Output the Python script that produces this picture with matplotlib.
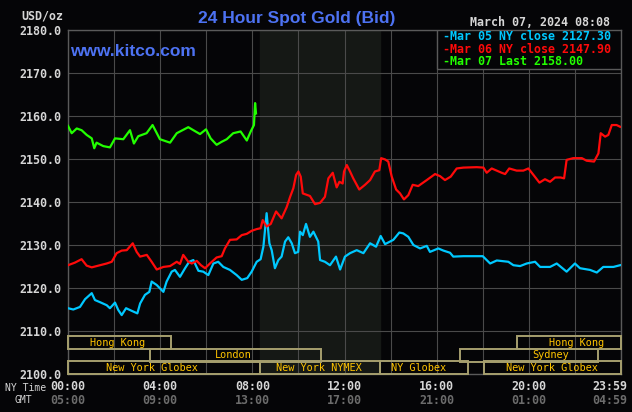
import matplotlib
matplotlib.use('Agg')
from matplotlib import pyplot as plt
from matplotlib.patches import Rectangle
from matplotlib import transforms

# hours since 00:00 NY time, bid price
cyan_t = [0, 0.23, 0.52, 0.74, 1.03, 1.17, 1.39, 1.68, 1.82, 2.04, 2.18, 2.33, 2.52, 2.76, 3.01,
          3.13, 3.34, 3.53, 3.63, 3.85, 4.14, 4.28, 4.50, 4.64, 4.86, 5.08, 5.26, 5.44, 5.66, 5.87,
          6.09, 6.31, 6.52, 6.74, 7.03, 7.32, 7.54, 7.78, 7.97, 8.19, 8.36, 8.48, 8.62, 8.74, 8.84,
          8.98, 9.13, 9.27, 9.42, 9.56, 9.71, 9.85, 9.99, 10.07, 10.19, 10.33, 10.50, 10.65, 10.86,
          10.94, 11.15, 11.37, 11.63, 11.81, 12.02, 12.24, 12.53, 12.82, 13.11, 13.37, 13.57, 13.76,
          14.12, 14.38, 14.55, 14.77, 14.99, 15.28, 15.57, 15.71, 16.07, 16.29, 16.58, 16.72, 17.16,
          18.00, 18.32, 18.61, 19.11, 19.33, 19.62, 19.91, 20.27, 20.49, 20.92, 21.21, 21.64, 22.00,
          22.22, 22.66, 22.95, 23.23, 23.67, 23.96]
cyan_p = [2115.3, 2115.0, 2115.6, 2117.4, 2118.8, 2117.2, 2116.7, 2116.0, 2115.3, 2116.6, 2114.9,
          2113.7, 2115.3, 2114.7, 2114.1, 2116.4, 2118.4, 2119.1, 2121.5, 2120.7, 2119.1, 2121.5,
          2123.8, 2124.2, 2122.6, 2124.6, 2126.1, 2126.5, 2124.0, 2123.8, 2123.0, 2125.7, 2126.1,
          2124.9, 2124.2, 2123.0, 2121.9, 2122.3, 2123.8, 2126.1, 2126.7, 2129.6, 2137.4, 2130.4,
          2128.8, 2124.6, 2126.5, 2127.3, 2130.8, 2131.8, 2130.4, 2128.1, 2128.4, 2133.1, 2132.3,
          2134.9, 2131.9, 2133.1, 2130.8, 2126.5, 2126.1, 2125.3, 2127.3, 2124.3, 2127.3, 2128.1,
          2128.8, 2128.1, 2130.4, 2129.6, 2132.1, 2130.2, 2131.2, 2132.9, 2132.7, 2131.9, 2130.0,
          2129.2, 2129.8, 2128.4, 2129.2, 2128.7, 2128.2, 2127.3, 2127.4, 2127.4, 2125.7, 2126.4,
          2126.1, 2125.3, 2125.1, 2125.7, 2126.1, 2124.9, 2124.9, 2125.7, 2123.8, 2125.7, 2124.6,
          2124.2, 2123.6, 2124.9, 2124.9, 2125.3]

red_t = [0, 0.30, 0.59, 0.81, 1.03, 1.39, 1.68, 1.90, 2.11, 2.33, 2.55, 2.81, 2.98, 3.13, 3.42,
         3.63, 3.85, 4.14, 4.43, 4.72, 4.86, 5.00, 5.22, 5.37, 5.59, 5.77, 5.95, 6.16, 6.45, 6.67,
         6.81, 7.03, 7.32, 7.54, 7.76, 7.97, 8.19, 8.36, 8.45, 8.62, 8.80, 9.03, 9.27, 9.49, 9.64,
         9.78, 9.90, 10.00, 10.10, 10.19, 10.50, 10.72, 10.94, 11.15, 11.30, 11.49, 11.66, 11.78,
         11.92, 11.98, 12.10, 12.24, 12.38, 12.64, 12.89, 13.11, 13.32, 13.51, 13.59, 13.76, 13.90,
         14.05, 14.24, 14.41, 14.58, 14.77, 14.96, 15.20, 15.57, 15.93, 16.15, 16.36, 16.61, 16.87,
         17.16, 17.74, 18.03, 18.17, 18.39, 18.82, 18.97, 19.15, 19.47, 19.76, 19.98, 20.20, 20.46,
         20.70, 20.92, 21.14, 21.38, 21.53, 21.64, 21.93, 22.30, 22.51, 22.83, 23.02, 23.12, 23.31,
         23.45, 23.60, 23.81, 23.96]
red_p = [2125.3, 2125.9, 2126.7, 2125.2, 2124.8, 2125.3, 2125.7, 2126.1, 2128.1, 2128.7, 2128.8,
         2130.4, 2128.4, 2127.3, 2127.7, 2126.1, 2124.3, 2124.9, 2125.1, 2126.1, 2125.6, 2127.7,
         2126.1, 2125.7, 2126.3, 2125.3, 2124.6, 2125.7, 2127.1, 2127.4, 2129.2, 2131.2, 2131.3,
         2132.3, 2132.6, 2133.3, 2133.7, 2133.9, 2135.8, 2134.3, 2134.9, 2137.8, 2136.2, 2138.8,
         2141.2, 2143.2, 2146.3, 2147.1, 2145.9, 2142.0, 2141.4, 2139.5, 2139.8, 2141.2, 2145.5,
         2146.8, 2143.4, 2144.7, 2144.3, 2147.1, 2148.6, 2147.1, 2145.5, 2142.9, 2144.0, 2145.1,
         2147.1, 2147.4, 2150.2, 2149.9, 2149.4, 2145.9, 2142.9, 2142.0, 2140.6, 2141.6, 2144.0,
         2143.7, 2145.1, 2146.5, 2146.0, 2145.1, 2145.9, 2147.8, 2148.0, 2148.1, 2148.0, 2146.8,
         2147.8, 2146.8, 2146.5, 2147.8, 2147.3, 2147.3, 2147.8, 2146.3, 2144.5, 2145.3, 2144.7,
         2145.7, 2145.7, 2145.5, 2149.8, 2150.2, 2150.2, 2149.6, 2149.4, 2151.3, 2156.0, 2155.2,
         2155.6, 2157.9, 2157.9, 2157.5]

green_t = [0, 0.16, 0.38, 0.59, 0.81, 1.03, 1.14, 1.24, 1.53, 1.82, 2.04, 2.40, 2.69, 2.86, 3.05,
           3.41, 3.67, 3.99, 4.43, 4.72, 5.22, 5.44, 5.73, 5.99, 6.19, 6.45, 6.67, 6.89, 7.17, 7.49,
           7.76, 7.93, 8.07, 8.12, 8.16]
green_p = [2157.7, 2156.0, 2157.1, 2156.7, 2155.6, 2154.8, 2152.5, 2153.8, 2153.0, 2152.7, 2154.8,
           2154.6, 2156.7, 2153.6, 2155.3, 2156.0, 2157.9, 2154.6, 2153.8, 2156.0, 2157.4, 2156.7,
           2155.8, 2156.9, 2154.8, 2153.3, 2154.0, 2154.6, 2156.0, 2156.4, 2154.3, 2156.4, 2157.9,
           2163.0, 2160.6]

legend_labels = ['-Mar 05 NY close 2127.30', '-Mar 06 NY close 2147.90', '-Mar 07 Last 2158.00']

ny_ticks = [0, 4, 8, 12, 16, 20, 24]
ny_labels = ['00:00', '04:00', '08:00', '12:00', '16:00', '20:00', '23:59']
gmt_labels = ['05:00', '09:00', '13:00', '17:00', '21:00', '01:00', '04:59']

# trading sessions: name, start, end, row, label position
sessions = [
    ('Hong Kong', 0, 4.47, 2, 2.13),
    ('Hong Kong', 19.5, 24, 2, 22.05),
    ('London', 3.54, 11.0, 1, 7.16),
    ('Sydney', 17.0, 23.0, 1, 20.96),
    ('New York Globex', 0, 8.33, 0, 3.65),
    ('New York NYMEX', 8.33, 13.54, 0, 10.9),
    ('NY Globex', 13.54, 17.38, 0, 15.2),
    ('New York Globex', 18.05, 24, 0, 21.0),
]
row_bottoms = [2100, 2102.9, 2105.85]
row_height = 2.95

nymex_open, nymex_close = 8.33, 13.55

BG = '#050507'
GRID = '#4a4a4a'
TXT = '#d6d6d6'
CYAN = '#00c8ff'
RED = '#ff0a0a'
GREEN = '#22ff00'
BLUE = '#4d72f2'
BOX = '#a69f6e'
GOLD = '#ffc400'
MONO = 'DejaVu Sans Mono'

fig = plt.figure(figsize=(6.32, 4.12), dpi=100, facecolor=BG)
ax = fig.add_axes([68 / 632, 38 / 412, 553 / 632, 344 / 412], facecolor=BG)
ax.set_xlim(0, 24)
ax.set_ylim(2100, 2180)

ax.axvspan(nymex_open, nymex_close, color='#151815', zorder=0)

ax.set_xticks(range(0, 25, 2))
ax.set_yticks(range(2100, 2181, 10))
ax.grid(color=GRID, linewidth=0.8, zorder=1)
ax.set_xticklabels([])
ax.set_yticklabels(['%.1f' % v for v in range(2100, 2181, 10)],
                   fontfamily=MONO, fontweight='bold', fontsize=8.4, color=TXT)
ax.tick_params(length=0, pad=5)
for s in ax.spines.values():
    s.set_color('#5a5a5a')
    s.set_linewidth(1.0)

ax.plot(cyan_t, cyan_p, color=CYAN, linewidth=1.6, zorder=4)
ax.plot(red_t, red_p, color=RED, linewidth=1.6, zorder=4)
ax.plot(green_t, green_p, color=GREEN, linewidth=1.6, zorder=5)

for name, t0, t1, row, tx in sessions:
    y0 = row_bottoms[row]
    ax.add_patch(Rectangle((t0, y0), t1 - t0, row_height, fill=False,
                           edgecolor=BOX, linewidth=1.4, zorder=3, clip_on=False))
    ax.text(tx, y0 + row_height / 2, name, color=GOLD, fontfamily=MONO,
            fontsize=7.4, ha='center', va='center', zorder=6)

# legend box in the top right corner
ax.add_patch(Rectangle((16, 2170.9), 8, 9.1, facecolor=BG, edgecolor='#5a5a5a',
                       linewidth=1.0, zorder=6))
for i, (lbl, col) in enumerate(zip(legend_labels, [CYAN, RED, GREEN])):
    fig.text(443 / 632, 1 - (36.5 + 12.6 * i) / 412, lbl, color=col, fontfamily=MONO,
             fontweight='bold', fontsize=8.4, ha='left', va='center', zorder=7)

# time axis: NY time and GMT
trans = transforms.blended_transform_factory(ax.transData, ax.transAxes)
for t, ny, gmt in zip(ny_ticks, ny_labels, gmt_labels):
    ha = 'center'
    dx = 0
    if t == 24:
        ha = 'right'
        dx = 6
    ax.annotate(ny, (t, 0), xycoords=trans, xytext=(dx, -12), textcoords='offset pixels',
                color=TXT, fontfamily=MONO, fontweight='bold', fontsize=8.4, ha=ha, va='center')
    ax.annotate(gmt, (t, 0), xycoords=trans, xytext=(dx, -26), textcoords='offset pixels',
                color='#6c6c6c', fontfamily=MONO, fontweight='bold', fontsize=8.4, ha=ha,
                va='center')

fig.text(46 / 632, 1 - 388 / 412, 'NY Time', color=TXT, fontfamily=MONO, fontsize=7,
         ha='right', va='center')
fig.text(32 / 632, 1 - 400 / 412, 'GMT', color=TXT, fontfamily=MONO, fontsize=7,
         ha='right', va='center')
fig.text(63 / 632, 1 - 16 / 412, 'USD/oz', color=TXT, fontfamily=MONO, fontweight='bold',
         fontsize=8.4, ha='right', va='center')

fig.text(297 / 632, 1 - 18 / 412, '24 Hour Spot Gold (Bid)', color=BLUE,
         fontfamily='Liberation Sans', fontweight='bold', fontsize=12.5, ha='center', va='center')
fig.text(70 / 632, 1 - 52 / 412, 'www.kitco.com', color=BLUE, fontfamily='Liberation Sans',
         fontweight='bold', fontsize=12.5, ha='left', va='center')
fig.text(610 / 632, 1 - 23 / 412, 'March 07, 2024 08:08', color=TXT, fontfamily=MONO,
         fontweight='bold', fontsize=8.4, ha='right', va='center')

fig.savefig('out.png', dpi=100, facecolor=BG)
